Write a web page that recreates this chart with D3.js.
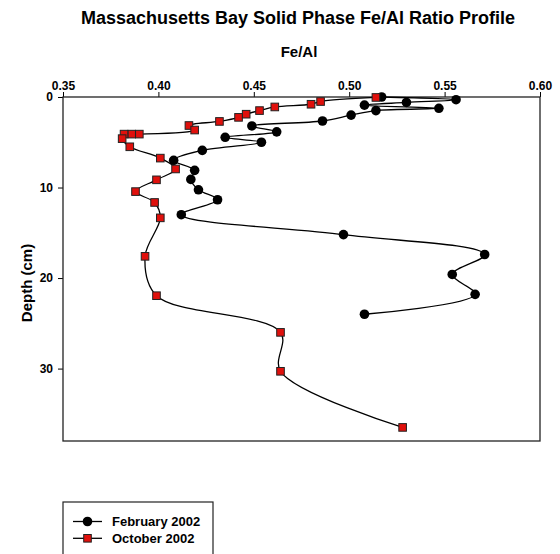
<!DOCTYPE html>
<html>
<head>
<meta charset="utf-8">
<script src="https://cdn.jsdelivr.net/npm/d3@7"></script>
<style>
    body { margin: 0; background: #fff; }
    text { font-family: "Liberation Sans", Arial, sans-serif; font-weight: bold; }
</style>
</head>
<body>
<div id="chart"></div>
<script>
// February 2002 profile
var febDepth = [0.0, 0.3, 0.6, 0.9, 1.25, 1.5, 2.0, 2.65, 3.2, 3.85, 4.45, 5.0, 5.9, 7.0, 8.1, 9.1, 10.25, 11.35, 13.0, 15.2, 17.4, 19.6, 21.8, 24.0];
var febRatio = [0.517, 0.556, 0.530, 0.508, 0.547, 0.514, 0.501, 0.486, 0.449, 0.462, 0.435, 0.454, 0.423, 0.408, 0.419, 0.417, 0.421, 0.431, 0.412, 0.497, 0.571, 0.554, 0.566, 0.508];

// October 2002 profile
var octDepth = [0.05, 0.5, 0.8, 1.1, 1.5, 1.9, 2.25, 2.7, 3.15, 3.65, 4.1, 4.1, 4.1, 4.6, 5.5, 6.75, 7.95, 9.15, 10.45, 11.65, 13.35, 17.6, 21.95, 26.0, 30.3, 36.5];
var octRatio = [0.514, 0.485, 0.480, 0.461, 0.453, 0.446, 0.442, 0.432, 0.416, 0.419, 0.390, 0.386, 0.382, 0.381, 0.385, 0.401, 0.409, 0.399, 0.388, 0.398, 0.401, 0.393, 0.399, 0.464, 0.464, 0.528];

var xTicks = [0.35, 0.40, 0.45, 0.50, 0.55, 0.60];
var yTicks = [0, 10, 20, 30];
var seriesNames = ["February 2002", "October 2002"];

var W = 560, H = 554;
var L = 63, R = 540, T = 97, B = 441;

var svg = d3.select("#chart").append("svg")
    .attr("width", W)
    .attr("height", H);

var x = d3.scaleLinear().domain([0.35, 0.60]).range([L, R]);
var y = d3.scaleLinear().domain([0, 38]).range([T, B]);

// title + axis titles
svg.append("text")
    .attr("x", 298)
    .attr("y", 24)
    .attr("text-anchor", "middle")
    .attr("font-size", "18")
    .text("Massachusetts Bay Solid Phase Fe/Al Ratio Profile");

svg.append("text")
    .attr("x", 299)
    .attr("y", 57)
    .attr("text-anchor", "middle")
    .attr("font-size", "15")
    .text("Fe/Al");

svg.append("text")
    .attr("transform", "translate(32," + 283 + ") rotate(-90)")
    .attr("text-anchor", "middle")
    .attr("font-size", "15")
    .text("Depth (cm)");

// axes
var gTop = svg.append("g")
    .attr("transform", "translate(0," + T + ")")
    .call(d3.axisTop(x).tickValues(xTicks).tickFormat(d3.format(".2f")).tickSize(5).tickPadding(2).tickSizeOuter(0));

var gLeft = svg.append("g")
    .attr("transform", "translate(" + L + ",0)")
    .call(d3.axisLeft(y).tickValues(yTicks).tickSize(5).tickPadding(5).tickSizeOuter(0));

[gTop, gLeft].forEach(function (g) {
    g.select(".domain").remove();
    g.selectAll("text")
        .attr("font-size", "12")
        .attr("font-family", "Liberation Sans, Arial, sans-serif")
        .attr("font-weight", "bold")
        .attr("fill", "#000");
    g.selectAll("line").attr("stroke", "#000");
});

// frame
svg.append("rect")
    .attr("x", L)
    .attr("y", T)
    .attr("width", R - L)
    .attr("height", B - T)
    .attr("fill", "none")
    .attr("stroke", "#222")
    .attr("stroke-width", 1.3);

var line = d3.line()
    .x(function (d) { return x(d[0]); })
    .y(function (d) { return y(d[1]); })
    .curve(d3.curveCatmullRom.alpha(0.5));

var feb = d3.zip(febRatio, febDepth);
var oct = d3.zip(octRatio, octDepth);

// February: line + circles
svg.append("path")
    .attr("d", line(feb))
    .attr("fill", "none")
    .attr("stroke", "#000")
    .attr("stroke-width", 1.3);

svg.append("g").selectAll("circle")
    .data(feb)
    .enter().append("circle")
    .attr("cx", function (d) { return x(d[0]); })
    .attr("cy", function (d) { return y(d[1]); })
    .attr("r", 4.8)
    .attr("fill", "#000");

// October: line + squares
svg.append("path")
    .attr("d", line(oct))
    .attr("fill", "none")
    .attr("stroke", "#000")
    .attr("stroke-width", 1.3);

svg.append("g").selectAll("rect")
    .data(oct)
    .enter().append("rect")
    .attr("x", function (d) { return x(d[0]) - 3.8; })
    .attr("y", function (d) { return y(d[1]) - 3.8; })
    .attr("width", 7.6)
    .attr("height", 7.6)
    .attr("fill", "#e0100c")
    .attr("stroke", "#222")
    .attr("stroke-width", 1);

// legend (box runs off the bottom edge as in the original)
var gLeg = svg.append("g");

gLeg.append("rect")
    .attr("x", 63)
    .attr("y", 502)
    .attr("width", 150)
    .attr("height", 70)
    .attr("fill", "#fff")
    .attr("stroke", "#222")
    .attr("stroke-width", 1.2);

seriesNames.forEach(function (name, i) {
    var cy = 521.5 + i * 16.8;
    gLeg.append("line")
        .attr("x1", 73)
        .attr("x2", 102)
        .attr("y1", cy)
        .attr("y2", cy)
        .attr("stroke", "#000")
        .attr("stroke-width", 1.3);
    if (i == 0) {
        gLeg.append("circle")
            .attr("cx", 87.5)
            .attr("cy", cy)
            .attr("r", 4.8)
            .attr("fill", "#000");
    } else {
        gLeg.append("rect")
            .attr("x", 87.5 - 3.8)
            .attr("y", cy - 3.8)
            .attr("width", 7.6)
            .attr("height", 7.6)
            .attr("fill", "#e0100c")
            .attr("stroke", "#222")
            .attr("stroke-width", 1);
    }
    gLeg.append("text")
        .attr("x", 112)
        .attr("y", cy + 4.5)
        .attr("font-size", "13")
        .text(name);
});
</script>
</body>
</html>
